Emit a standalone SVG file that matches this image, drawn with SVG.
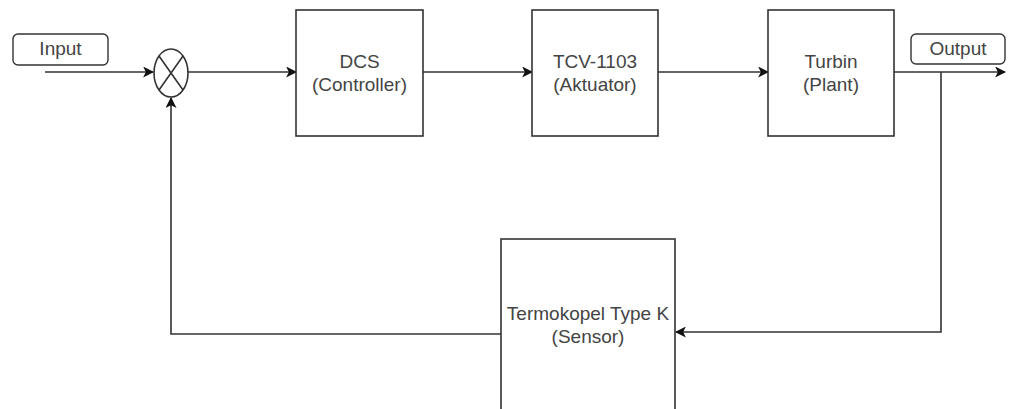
<svg xmlns="http://www.w3.org/2000/svg" width="1016" height="409" viewBox="0 0 1016 409">
<style>
.box{fill:#fff;stroke:#333;stroke-width:1.6}
.lbl{fill:#fff;stroke:#333;stroke-width:1.4}
.t{font-family:"Liberation Sans",Arial,sans-serif;font-size:19px;fill:#444;text-anchor:middle}
.c{fill:none;stroke:#333;stroke-width:1.6}
</style>
<defs>
<marker id="arr" viewBox="0 0 10 10" refX="9" refY="5" markerWidth="11" markerHeight="11" markerUnits="userSpaceOnUse" orient="auto">
<path d="M0,0 L10,5 L0,10 L2.5,5 Z" fill="#111"/>
</marker>
</defs>
<g id="connectors">
<path class="c" d="M45,72 H153" marker-end="url(#arr)"/>
<path class="c" d="M188,72 H296" marker-end="url(#arr)"/>
<path class="c" d="M423,72 H532" marker-end="url(#arr)"/>
<path class="c" d="M658,72 H768" marker-end="url(#arr)"/>
<path class="c" d="M894,72 H1005" marker-end="url(#arr)"/>
<path class="c" d="M941,72 V332 H676" marker-end="url(#arr)"/>
<path class="c" d="M501,334 H171 V98" marker-end="url(#arr)"/>
</g>
<g id="input">
<rect class="lbl" x="13" y="34" width="95" height="31" rx="5"/>
<text class="t" x="60.5" y="55">Input</text>
</g>
<g id="sum">
<ellipse class="box" cx="171" cy="73" rx="17" ry="24"/>
<path class="c" d="M159,56 L183,90 M183,56 L159,90"/>
</g>
<g id="dcs">
<rect class="box" x="296" y="10" width="127" height="126"/>
<text class="t" x="359.5" y="68">DCS</text>
<text class="t" x="359.5" y="91">(Controller)</text>
</g>
<g id="tcv">
<rect class="box" x="532" y="10" width="126" height="126"/>
<text class="t" x="595" y="68">TCV-1103</text>
<text class="t" x="595" y="91">(Aktuator)</text>
</g>
<g id="turbin">
<rect class="box" x="768" y="10" width="126" height="126"/>
<text class="t" x="831" y="68">Turbin</text>
<text class="t" x="831" y="91">(Plant)</text>
</g>
<g id="output">
<rect class="lbl" x="911" y="34" width="94" height="30" rx="5"/>
<text class="t" x="958" y="55">Output</text>
</g>
<g id="sensor">
<rect class="box" x="501" y="239" width="174" height="190"/>
<text class="t" x="588" y="320">Termokopel Type K</text>
<text class="t" x="588" y="343">(Sensor)</text>
</g>
</svg>
